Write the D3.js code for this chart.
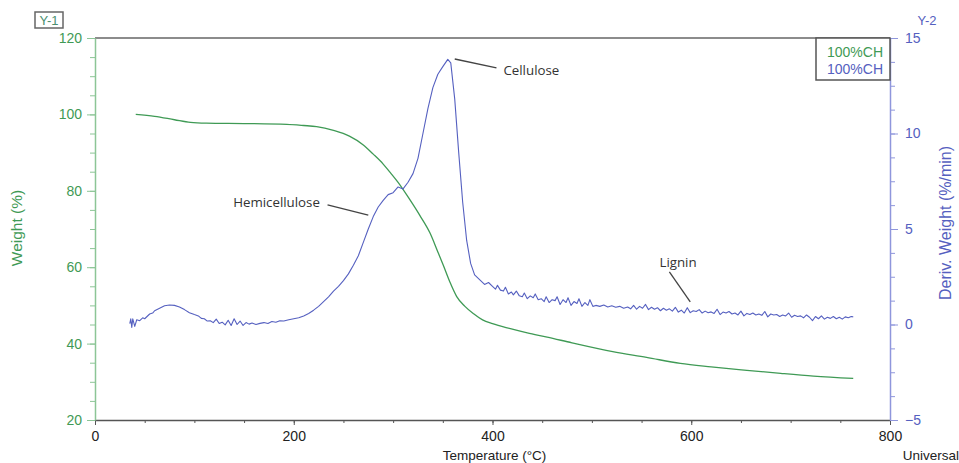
<!DOCTYPE html>
<html>
<head>
<meta charset="utf-8">
<script src="https://cdn.jsdelivr.net/npm/d3@7"></script>
<style>
  body { margin: 0; background: #fff; }
  svg text { font-family: "Liberation Sans", Arial, sans-serif; }
  .note { font-family: "Open Sans", "Noto Sans", sans-serif; font-size: 13.3px; fill: #333; }
</style>
</head>
<body>
<div id="chart"></div>
<script>
// weight curve (green), [temperature, weight %]
const weightData = [
  [41, 100.0], [60, 99.5], [80, 98.6], [96, 97.9], [112, 97.7], [150, 97.6],
  [193, 97.4], [210, 97.1], [223, 96.8], [240, 95.8], [256, 94.3], [270, 92.0],
  [280, 89.6], [290, 87.0], [297, 84.8], [305, 82.2], [317, 77.6], [327, 73.5],
  [337, 69.0], [345, 64.0], [350.5, 60.5], [357, 56.2], [364, 52.3], [372, 49.8],
  [381, 47.8], [390, 46.2], [400, 45.2], [418, 43.9], [435, 42.8], [455, 41.7],
  [480, 40.2], [521, 37.9], [555, 36.4], [589, 34.8], [620, 33.9], [656, 33.0],
  [690, 32.2], [723, 31.5], [763, 30.9]
];

// derivative weight curve (blue), [temperature, %/min]
const derivData = [
  [35, 0.05], [36, 0.3], [37, -0.15], [38, 0.3], [40, -0.1], [42, 0.25], [45, 0.2],
  [48, 0.35], [50, 0.3], [55, 0.55], [58, 0.6], [60, 0.72], [65, 0.85], [70, 0.98],
  [75, 1.02], [80, 1.0], [85, 0.92], [90, 0.78], [95, 0.62], [100, 0.52], [104, 0.45],
  [107, 0.32], [110, 0.3], [113, 0.18], [116, 0.2], [119, 0.1], [122, 0.28], [125, 0.05],
  [128, 0.12], [131, -0.02], [134, 0.22], [137, -0.05], [140, 0.3], [143, 0.0],
  [146, 0.18], [149, -0.05], [152, 0.1], [155, 0.02], [158, 0.08], [162, 0.0],
  [166, 0.06], [170, 0.1], [174, 0.05], [178, 0.16], [182, 0.12], [186, 0.2],
  [190, 0.18], [195, 0.25], [200, 0.3], [205, 0.35], [210, 0.45], [215, 0.58],
  [220, 0.75], [225, 0.95], [230, 1.2], [235, 1.45], [240, 1.75], [245, 2.0],
  [250, 2.3], [255, 2.65], [260, 3.1], [265, 3.6], [270, 4.3], [275, 5.0],
  [280, 5.65], [285, 6.15], [290, 6.5], [295, 6.8], [300, 6.9], [305, 7.2],
  [310, 7.1], [315, 7.45], [320, 7.9], [325, 8.7], [330, 10.0], [335, 11.3],
  [340, 12.4], [345, 13.1], [350, 13.5], [355, 13.88], [358, 13.7], [362, 11.8],
  [366, 9.0], [370, 6.4], [374, 4.4], [378, 3.2], [382, 2.6], [387, 2.35],
  [392, 2.1], [396, 2.2], [400, 2.0], [403, 1.85], [405, 2.05], [408, 1.8],
  [411, 1.75], [413, 1.95], [416, 1.6], [419, 1.7], [421, 1.55], [424, 1.75],
  [427, 1.5], [430, 1.45], [432, 1.65], [435, 1.35], [438, 1.5], [441, 1.4],
  [443, 1.6], [446, 1.3], [449, 1.35], [452, 1.2], [454, 1.45], [457, 1.15],
  [460, 1.3], [463, 1.25], [465, 1.45], [468, 1.05], [471, 1.3], [474, 1.15],
  [476, 1.4], [479, 1.0], [482, 1.2], [485, 1.1], [487, 1.35], [490, 0.95],
  [493, 1.15], [496, 1.0], [498, 1.3], [501, 0.95], [504, 1.0], [508, 0.95],
  [512, 1.02], [516, 0.92], [520, 0.98], [524, 0.9], [528, 0.95], [532, 0.85],
  [536, 0.92], [539, 0.82], [542, 1.0], [545, 0.8], [548, 0.95], [551, 0.85],
  [554, 1.05], [557, 0.78], [560, 0.9], [563, 0.8], [566, 0.88], [569, 0.72],
  [572, 0.85], [575, 0.75], [578, 0.82], [581, 0.7], [584, 0.9], [587, 0.65],
  [590, 0.75], [593, 0.6], [596, 0.88], [599, 0.62], [602, 0.72], [605, 0.68],
  [608, 0.78], [611, 0.6], [614, 0.7], [617, 0.62], [620, 0.66], [623, 0.58],
  [626, 0.8], [629, 0.52], [632, 0.65], [635, 0.6], [638, 0.68], [641, 0.55],
  [644, 0.6], [647, 0.5], [650, 0.7], [653, 0.45], [656, 0.58], [659, 0.52],
  [662, 0.6], [665, 0.5], [668, 0.55], [671, 0.48], [674, 0.68], [677, 0.4],
  [680, 0.55], [683, 0.5], [686, 0.52], [689, 0.42], [692, 0.5], [695, 0.45],
  [698, 0.6], [701, 0.38], [704, 0.48], [707, 0.42], [710, 0.45], [713, 0.35],
  [716, 0.5], [719, 0.38], [722, 0.2], [725, 0.42], [728, 0.3], [731, 0.45],
  [734, 0.28], [737, 0.38], [740, 0.32], [743, 0.42], [746, 0.3], [749, 0.38],
  [752, 0.28], [755, 0.4], [758, 0.35], [761, 0.42], [763, 0.4]
];

const xTicks = [0, 200, 400, 600, 800];
const yLeftTicks = [20, 40, 60, 80, 100, 120];
const yRightTicks = [-5, 0, 5, 10, 15];
const legendLabels = ["100%CH", "100%CH"];

// annotation text position and pointer line, in data units of the right axis
const notes = [
  { label: "Cellulose", tx: 411, ty: 13.3, from: [362, 13.9], to: [404, 13.43] },
  { label: "Hemicellulose", tx: 139, ty: 6.41, from: [234, 6.26], to: [275, 5.73] },
  { label: "Lignin", tx: 568, ty: 3.27, from: [578, 2.75], to: [599, 1.18] }
];

const green = "#3f9a55";
const greenAxis = "#8cc596";
const blue = "#5560c0";
const blueAxis = "#8f96dc";
const gray = "#555";

const width = 959, height = 463;
const margin = { top: 38, right: 69, bottom: 43, left: 95 };
const innerW = width - margin.left - margin.right;
const innerH = height - margin.top - margin.bottom;

const svg = d3.select("#chart").append("svg")
  .attr("width", width)
  .attr("height", height);

const g = svg.append("g")
  .attr("transform", `translate(${margin.left},${margin.top})`);

const x = d3.scaleLinear().domain([0, 800]).range([0, innerW]);
const yL = d3.scaleLinear().domain([20, 120]).range([innerH, 0]);
const yR = d3.scaleLinear().domain([-5, 15]).range([innerH, 0]);

// top frame line
g.append("line")
  .attr("x1", 0).attr("x2", innerW)
  .attr("y1", 0).attr("y2", 0)
  .attr("stroke", "#666").attr("stroke-width", 1.5);

// bottom axis
const xMinor = g.append("g")
  .attr("transform", `translate(0,${innerH})`)
  .call(d3.axisBottom(x).tickValues(d3.range(0, 801, 50)).tickSize(3).tickFormat(""));
xMinor.select(".domain").remove();
xMinor.selectAll("line").attr("stroke", gray);

const xAxis = g.append("g")
  .attr("transform", `translate(0,${innerH})`)
  .call(d3.axisBottom(x).tickValues(xTicks).tickSize(5).tickSizeOuter(0));
xAxis.select(".domain").attr("stroke", gray).attr("stroke-width", 1.5);
xAxis.selectAll("line").attr("stroke", gray);
xAxis.selectAll("text").attr("fill", "#222").style("font-size", "14px").attr("dy", "0.95em");

// left axis
const yLMinor = g.append("g")
  .call(d3.axisLeft(yL).tickValues(d3.range(20, 121, 5)).tickSize(5).tickFormat(""));
yLMinor.select(".domain").remove();
yLMinor.selectAll("line").attr("stroke", greenAxis);

const yLAxis = g.append("g")
  .call(d3.axisLeft(yL).tickValues(yLeftTicks).tickSize(8).tickSizeOuter(0));
yLAxis.select(".domain").attr("stroke", greenAxis).attr("stroke-width", 1.5);
yLAxis.selectAll("line").attr("stroke", greenAxis);
yLAxis.selectAll("text").attr("fill", green).style("font-size", "14px").attr("x", -13);

// right axis
const yRMinor = g.append("g")
  .attr("transform", `translate(${innerW},0)`)
  .call(d3.axisRight(yR).tickValues(d3.range(-5, 15.01, 1.25)).tickSize(5).tickFormat(""));
yRMinor.select(".domain").remove();
yRMinor.selectAll("line").attr("stroke", blueAxis);

const yRAxis = g.append("g")
  .attr("transform", `translate(${innerW},0)`)
  .call(d3.axisRight(yR).tickValues(yRightTicks).tickSize(8).tickSizeOuter(0));
yRAxis.select(".domain").attr("stroke", blueAxis).attr("stroke-width", 1.5);
yRAxis.selectAll("line").attr("stroke", blueAxis);
yRAxis.selectAll("text").attr("fill", blue).style("font-size", "14px").attr("x", 15);

// curves
const weightLine = d3.line().x(d => x(d[0])).y(d => yL(d[1])).curve(d3.curveMonotoneX);
const derivLine = d3.line().x(d => x(d[0])).y(d => yR(d[1]));

g.append("path")
  .datum(weightData)
  .attr("d", weightLine)
  .attr("fill", "none")
  .attr("stroke", green)
  .attr("stroke-width", 1.3);

g.append("path")
  .datum(derivData)
  .attr("d", derivLine)
  .attr("fill", "none")
  .attr("stroke", blue)
  .attr("stroke-width", 1.1)
  .attr("stroke-linejoin", "round");

// annotations
notes.forEach(n => {
  g.append("line")
    .attr("x1", x(n.from[0])).attr("y1", yR(n.from[1]))
    .attr("x2", x(n.to[0])).attr("y2", yR(n.to[1]))
    .attr("stroke", "#444").attr("stroke-width", 1.3);
  g.append("text")
    .attr("class", "note")
    .attr("x", x(n.tx)).attr("y", yR(n.ty))
    .attr("dy", "0.35em")
    .text(n.label);
});

// legend box
const legend = g.append("g").attr("transform", `translate(${innerW - 74},0)`);
legend.append("rect")
  .attr("width", 74).attr("height", 42)
  .attr("fill", "#fff").attr("stroke", "#555").attr("stroke-width", 1.5);
legend.selectAll("text.leg")
  .data(legendLabels)
  .join("text")
  .attr("class", "leg")
  .attr("x", 67).attr("y", (d, i) => 14 + i * 17)
  .attr("dy", "0.35em")
  .attr("text-anchor", "end")
  .attr("fill", (d, i) => i === 0 ? green : blue)
  .style("font-size", "14px")
  .text(d => d);

// Y-1 / Y-2 tags
svg.append("rect")
  .attr("x", 35).attr("y", 12).attr("width", 28).attr("height", 16)
  .attr("fill", "#fff").attr("stroke", "#666").attr("stroke-width", 1.5);
svg.append("text")
  .attr("x", 49).attr("y", 20).attr("dy", "0.35em")
  .attr("text-anchor", "middle")
  .attr("fill", "#4a9070")
  .style("font-size", "13px")
  .text("Y-1");
svg.append("text")
  .attr("x", 927).attr("y", 20).attr("dy", "0.35em")
  .attr("text-anchor", "middle")
  .attr("fill", blue)
  .style("font-size", "13px")
  .text("Y-2");

// axis titles
svg.append("text")
  .attr("transform", "translate(22,228) rotate(-90)")
  .attr("text-anchor", "middle")
  .attr("fill", green)
  .style("font-size", "15.5px")
  .text("Weight (%)");

svg.append("text")
  .attr("transform", "translate(951,223) rotate(-90)")
  .attr("text-anchor", "middle")
  .attr("fill", blue)
  .style("font-size", "16px")
  .text("Deriv. Weight (%/min)");

svg.append("text")
  .attr("x", margin.left + x(400) + 2).attr("y", 455)
  .attr("dy", "0.35em")
  .attr("text-anchor", "middle")
  .attr("fill", "#222")
  .style("font-size", "13.5px")
  .text("Temperature (°C)");

svg.append("text")
  .attr("x", 959).attr("y", 455)
  .attr("dy", "0.35em")
  .attr("text-anchor", "end")
  .attr("fill", "#222")
  .style("font-size", "13.5px")
  .text("Universal");
</script>
</body>
</html>
